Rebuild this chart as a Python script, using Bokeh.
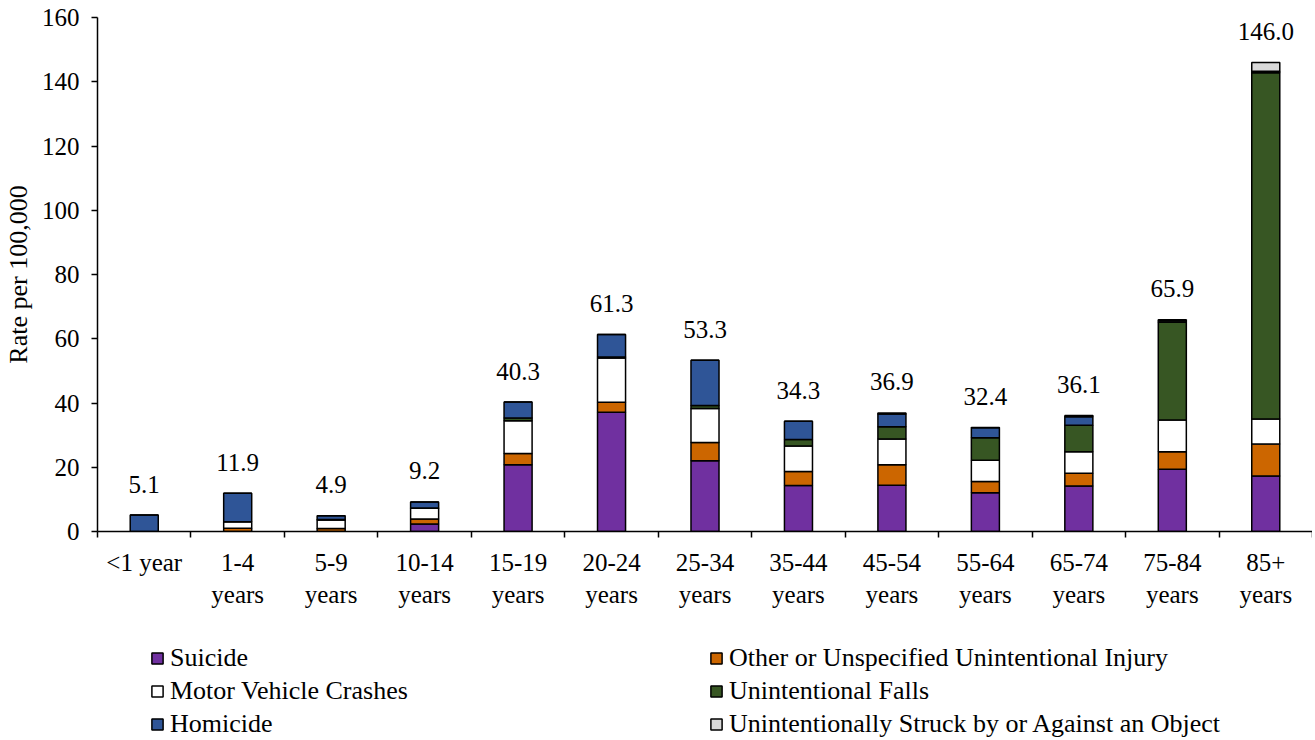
from bokeh.plotting import figure
from bokeh.layouts import column
from bokeh.models import FixedTicker, Legend, LegendItem, ColumnDataSource, Range1d
from bokeh.core.properties import value
from bokeh.embed import file_html
from bokeh.resources import INLINE

categories = ["<1 year", "1-4\nyears", "5-9\nyears", "10-14\nyears", "15-19\nyears",
              "20-24\nyears", "25-34\nyears", "35-44\nyears", "45-54\nyears",
              "55-64\nyears", "65-74\nyears", "75-84\nyears", "85+\nyears"]
suicide = [0, 0, 0, 2.3, 20.8, 37.1, 22.0, 14.3, 14.4, 12.1, 14.2, 19.4, 17.3]
other_unint = [0, 1.0, 0.9, 1.6, 3.5, 3.1, 5.7, 4.4, 6.4, 3.5, 3.9, 5.4, 9.9]
motor_vehicle = [0, 2.0, 2.7, 3.3, 10.2, 13.8, 10.6, 7.9, 8.0, 6.6, 6.7, 9.9, 7.8]
falls = [0, 0, 0.1, 0.1, 0.8, 0.3, 0.9, 2.0, 3.8, 7.0, 8.3, 30.4, 107.8]
homicide = [5.1, 8.9, 1.2, 1.9, 5.0, 7.0, 14.1, 5.7, 4.0, 3.1, 2.6, 0.4, 0.5]
struck = [0, 0, 0, 0, 0, 0, 0, 0, 0.3, 0.1, 0.4, 0.4, 2.7]
totals = [5.1, 11.9, 4.9, 9.2, 40.3, 61.3, 53.3, 34.3, 36.9, 32.4, 36.1, 65.9, 146.0]
y_ticks = [0, 20, 40, 60, 80, 100, 120, 140, 160]

series_names = ["Suicide", "Other or Unspecified Unintentional Injury", "Motor Vehicle Crashes",
                "Unintentional Falls", "Homicide", "Unintentionally Struck by or Against an Object"]
series_keys = ["suicide", "other", "motor", "falls", "homicide", "struck"]
colors = ["#7030A0", "#CC6600", "#FFFFFF", "#375623", "#2F5597", "#D9D9D9"]
legend_order = [0, 2, 4, 1, 3, 5]   # column-major: left column, then right column

FONT = "Liberation Serif"
W = 1312
xs = list(range(len(categories)))
source = ColumnDataSource(dict(x=xs, suicide=suicide, other=other_unint, motor=motor_vehicle,
                               falls=falls, homicide=homicide, struck=struck,
                               total=totals, total_label=[f"{t:.1f}" for t in totals]))

p = figure(width=W, height=611, output_backend="svg", toolbar_location=None,
           x_range=Range1d(-0.5, len(categories) - 0.5), y_range=Range1d(0, 160),
           min_border_left=97, min_border_right=0, min_border_top=17, min_border_bottom=80)
p.outline_line_color = None
p.xgrid.visible = False
p.ygrid.visible = False

renderers = p.vbar_stack(series_keys, x="x", width=0.3, color=colors, line_color="black",
                         line_width=1.5, source=source)

p.text(x="x", y="total", text="total_label", source=source, text_align="center",
       text_baseline="middle", y_offset=-31, text_font=value(FONT), text_font_size="25px",
       text_color="black")

# x axis: labels at category centres, ticks between categories
xa = p.xaxis[0]
xa.ticker = FixedTicker(ticks=xs, minor_ticks=[i - 0.5 for i in range(len(categories) + 1)])
xa.major_label_overrides = {i: c for i, c in enumerate(categories)}
xa.major_tick_line_color = None
xa.minor_tick_line_color = "black"
xa.minor_tick_out = 6
xa.minor_tick_in = 0
xa.minor_tick_line_width = 1.5
xa.axis_line_color = "black"
xa.axis_line_width = 1.5
xa.major_label_text_font = FONT
xa.major_label_text_font_size = "25px"
xa.major_label_text_color = "black"
xa.major_label_standoff = 11

# y axis
ya = p.yaxis[0]
ya.ticker = FixedTicker(ticks=y_ticks)
ya.minor_tick_line_color = None
ya.major_tick_out = 6
ya.major_tick_in = 0
ya.major_tick_line_width = 1.5
ya.axis_line_width = 1.5
ya.major_label_text_font = FONT
ya.major_label_text_font_size = "25px"
ya.major_label_text_color = "black"
ya.major_label_standoff = 12
ya.axis_label = "Rate per 100,000"
ya.axis_label_text_font = FONT
ya.axis_label_text_font_size = "26px"
ya.axis_label_text_font_style = "normal"
ya.axis_label_text_color = "black"
ya.axis_label_standoff = 6

# legend panel below the chart (its glyph renderers are hidden; only the legend shows)
lg = figure(width=W, height=129, output_backend="svg", toolbar_location=None,
            x_range=Range1d(-0.5, len(categories) - 0.5), y_range=Range1d(0, 160),
            min_border_left=97, min_border_right=0, min_border_top=0, min_border_bottom=0)
lg.axis.visible = False
lg.grid.visible = False
lg.outline_line_color = None
lg_renderers = lg.vbar_stack(series_keys, x="x", width=0.3, color=colors, line_color="black",
                             line_width=1.5, source=source)
for r in lg_renderers:
    r.visible = False
items = [LegendItem(label=series_names[i], renderers=[lg_renderers[i]]) for i in legend_order]
leg = Legend(items=items, location=(53, 1), orientation="vertical", ncols=2,
             border_line_color=None, background_fill_alpha=0,
             label_text_font=FONT, label_text_font_size="26px", label_text_color="black",
             glyph_width=14, glyph_height=14, label_standoff=6, label_width=536,
             padding=0, margin=0, spacing=3, label_height=26)
lg.add_layout(leg)

open("out.html", "w").write(file_html(column(p, lg), INLINE))
